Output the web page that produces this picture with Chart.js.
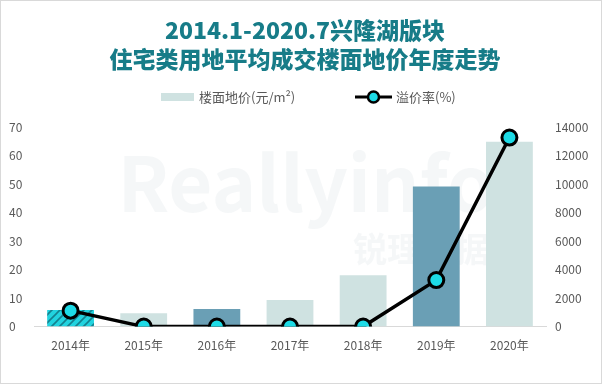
<!DOCTYPE html>
<html>
<head>
<meta charset="utf-8">
<script src="https://cdn.jsdelivr.net/npm/chart.js@4.4.1/dist/chart.umd.min.js"></script>
<style>
  body { margin: 0; background: #fff; }
  #box { width: 600px; height: 382px; border: 1px solid #d9d9d9; }
</style>
</head>
<body>
<div id="box"><canvas id="chart" width="600" height="382"></canvas></div>
<script>
// 兴隆湖版块 楼面地价 / 溢价率

const years = ['2014年', '2015年', '2016年', '2017年', '2018年', '2019年', '2020年'];
const landPrice = [1160, 930, 1230, 1860, 3600, 9820, 12960]; // 元/m²
const premiumRate = [5.6, 0, 0, 0, 0, 16.3, 66.3]; // %
const leftTicks = [0, 10, 20, 30, 40, 50, 60, 70];
const rightTicks = [0, 2000, 4000, 6000, 8000, 10000, 12000, 14000];
const legendNames = ['楼面地价(元/m²)', '溢价率(%)'];

const font = '"Noto Sans CJK SC", "Noto Sans", sans-serif';
const light = '#cfe2e1';
const dark = '#6a9fb5';
const cyan = '#1ddbe6';

// hatched fill for 2014
function makeHatch() {
    const c = document.createElement('canvas');
    c.width = 8; c.height = 8;
    const g = c.getContext('2d');
    g.fillStyle = '#22d3df';
    g.fillRect(0, 0, 8, 8);
    g.strokeStyle = '#14818f';
    g.lineWidth = 1.6;
    g.beginPath();
    g.moveTo(-2, 10); g.lineTo(10, -2);
    g.moveTo(-2, 2); g.lineTo(2, -2);
    g.moveTo(6, 10); g.lineTo(10, 6);
    g.stroke();
    return g.createPattern(c, 'repeat');
}

const barColors = [makeHatch(), light, dark, light, light, dark, light];

// faint watermark behind the bars
const watermark = {
    id: 'watermark',
    beforeDatasetsDraw(chart) {
        const ctx = chart.ctx;
        ctx.save();
        ctx.fillStyle = 'rgba(236,241,243,0.55)';
        ctx.font = 'bold 76px ' + font;
        ctx.textAlign = 'center';
        ctx.textBaseline = 'middle';
        ctx.fillText('Reallyinfo', 305, 182);
        ctx.font = 'bold 34px ' + font;
        ctx.fillText('锐理数据', 420, 248);
        ctx.restore();
    }
};

// legend drawn by hand: bar swatch + line with marker
const customLegend = {
    id: 'customLegend',
    afterDraw(chart) {
        const ctx = chart.ctx;
        const y = 96;
        ctx.save();
        ctx.fillStyle = light;
        ctx.fillRect(160, y - 4, 33, 8);
        ctx.font = '13px ' + font;
        ctx.fillStyle = '#595959';
        ctx.textBaseline = 'middle';
        ctx.fillText(legendNames[0], 198, y);

        ctx.strokeStyle = '#000';
        ctx.lineWidth = 3;
        ctx.beginPath(); ctx.moveTo(354, y); ctx.lineTo(391, y); ctx.stroke();
        ctx.beginPath(); ctx.arc(372.5, y, 5.5, 0, Math.PI * 2);
        ctx.fillStyle = cyan; ctx.fill();
        ctx.lineWidth = 2.5; ctx.stroke();
        ctx.fillStyle = '#595959';
        ctx.fillText(legendNames[1], 395, y);
        ctx.restore();
    }
};

new Chart(document.getElementById('chart'), {
    data: {
        labels: years,
        datasets: [
            {
                type: 'bar',
                label: legendNames[0],
                data: landPrice,
                yAxisID: 'yRight',
                backgroundColor: barColors,
                barPercentage: 0.64,
                categoryPercentage: 1,
                order: 2
            },
            {
                type: 'line',
                label: legendNames[1],
                data: premiumRate,
                yAxisID: 'yLeft',
                borderColor: '#000',
                borderWidth: 3.5,
                pointRadius: 7.5,
                pointBorderWidth: 3,
                pointBackgroundColor: cyan,
                pointBorderColor: '#000',
                tension: 0,
                order: 1
            }
        ]
    },
    options: {
        responsive: false,
        animation: false,
        layout: { padding: { top: 8, bottom: 18, left: 8, right: 0 } },
        plugins: {
            title: {
                display: true,
                text: ['2014.1-2020.7兴隆湖版块', '住宅类用地平均成交楼面地价年度走势'],
                color: '#177c88',
                font: { family: font, size: 23, weight: '900', lineHeight: 1.26 },
                padding: { top: 7, bottom: 53 }
            },
            legend: { display: false },
            tooltip: { enabled: false }
        },
        scales: {
            x: {
                grid: { display: false, drawTicks: false },
                border: { display: true, color: '#d9d9d9' },
                ticks: { color: '#595959', font: { family: font, size: 12 }, padding: 12 }
            },
            yLeft: {
                position: 'left',
                min: 0, max: 70,
                afterBuildTicks(axis) { axis.ticks = leftTicks.map(v => ({ value: v })); },
                afterFit(axis) { axis.width = 25; },
                grid: { display: false, drawTicks: false },
                border: { display: false },
                ticks: { color: '#595959', font: { family: font, size: 12 }, crossAlign: 'far', padding: 6, callback: v => String(v) }
            },
            yRight: {
                position: 'right',
                min: 0, max: 14000,
                afterBuildTicks(axis) { axis.ticks = rightTicks.map(v => ({ value: v })); },
                afterFit(axis) { axis.width = 55; },
                grid: { display: false, drawTicks: false },
                border: { display: false },
                ticks: { color: '#595959', font: { family: font, size: 12 }, padding: 9, callback: v => String(v) }
            }
        }
    },
    plugins: [watermark, customLegend]
});
</script>
</body>
</html>
